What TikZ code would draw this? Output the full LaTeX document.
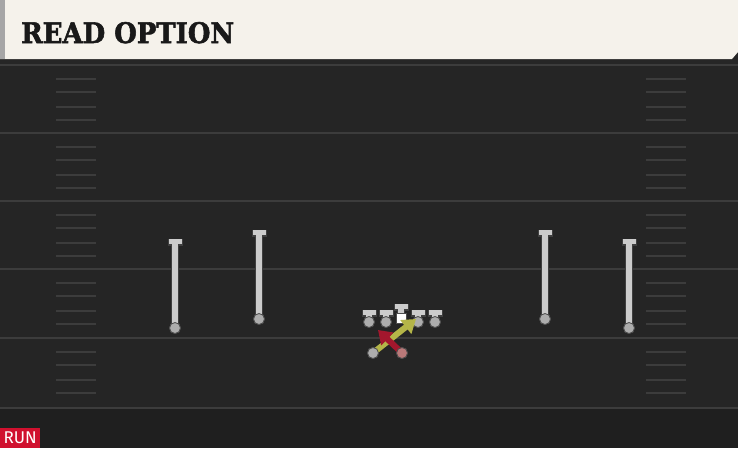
\documentclass[tikz,border=0pt]{standalone}
\usepackage{fontspec}
\usepackage{xcolor}
\usepackage{tikz}
\usetikzlibrary{arrows.meta}
\newfontfamily\titlefont[FakeBold=2]{DejaVu Serif}
\newfontfamily\tagfont{Fira Sans}
\definecolor{field}{HTML}{252525}
\definecolor{fielddark}{HTML}{1F1F1F}
\definecolor{yardline}{HTML}{3C3C3C}
\definecolor{cream}{HTML}{F5F2EB}
\definecolor{route}{HTML}{CCCCCC}
\definecolor{runred}{HTML}{D0102E}
\definecolor{qbline}{HTML}{B4B548}
\definecolor{rbline}{HTML}{A3172D}
\tikzset{
  yard/.style={yardline, line width=2pt},
  hash/.style={yardline, line width=1.5pt},
  player/.style={circle, fill=route!85!black, draw=black!70, line width=0.8pt, inner sep=0pt, minimum size=11pt},
  center/.style={draw=black!70, fill=white, line width=0.8pt, minimum size=10pt, inner sep=0pt},
  block/.style={route, line width=6pt, -{Rectangle[length=5pt, width=13pt]},
    preaction={draw=black!75, line width=7.5pt, -{Rectangle[length=6.5pt, width=15pt]}}},
  run/.style={line width=6pt, -{Triangle[length=13pt, width=17pt]}}
}
\begin{document}
\begin{tikzpicture}[x=1pt, y=-1pt]
            \useasboundingbox (0,0) rectangle (738,448);
            % field and header
            \fill[field] (0,0) rectangle (738,448);
            \fill[fielddark] (0,408) rectangle (738,448);
            \fill[black!85] (0,59) rectangle (738,64);
            \fill[cream] (0,0) -- (738,0) -- (738,52) -- (732,59) -- (0,59) -- cycle;
            \fill[black!35] (0,0) rectangle (5,59);
            \node[anchor=base west, text=black!90, inner sep=0pt] (title) at (21,43)
                {\resizebox{213pt}{21pt}{\titlefont\bfseries\fontsize{28}{28}\selectfont READ OPTION}};

            % yard lines and hash marks
            \foreach \y in {65,133,201,269,338,408}
                \draw[yard] (0,\y) -- (738,\y);
            \foreach \y in {65,133,201,269,338}
                \foreach \d in {14,27,42,55} {
                    \draw[hash] (56,\y+\d) -- (96,\y+\d);
                    \draw[hash] (646,\y+\d) -- (686,\y+\d);
                }

            % receivers
            \coordinate (wr1t) at (175,239);
            \coordinate (wr2t) at (259,230);
            \coordinate (wr3t) at (545,230);
            \coordinate (wr4t) at (629,239);
            \node[player] (wr1) at (175,328) {};
            \node[player] (wr2) at (259,319) {};
            \node[player] (wr3) at (545,319) {};
            \node[player] (wr4) at (629,328) {};
            \draw[block] (wr1.center) -- (wr1t);
            \draw[block] (wr2.center) -- (wr2t);
            \draw[block] (wr3.center) -- (wr3t);
            \draw[block] (wr4.center) -- (wr4t);
            \foreach \p in {wr1,wr2,wr3,wr4}
                \node[player] at (\p) {};

            % line
            \coordinate (ltt) at (369,310);
            \coordinate (lgt) at (386,310);
            \coordinate (ct) at (401,304);
            \coordinate (rgt) at (418,310);
            \coordinate (rtt) at (435,310);
            \node[player] (lt) at (369,322) {};
            \node[player] (lg) at (386,322) {};
            \node[center] (c) at (401,318) {};
            \node[player] (rg) at (418,322) {};
            \node[player] (rt) at (435,322) {};
            \draw[block] (lt.center) -- (ltt);
            \draw[block] (lg.center) -- (lgt);
            \draw[block] (c.center) -- (ct);
            \draw[block] (rg.center) -- (rgt);
            \draw[block] (rt.center) -- (rtt);
            \foreach \p in {lt,lg,rg,rt}
                \node[player] at (\p) {};
            \node[center] at (c) {};

            % backfield
            \node[player] (qb) at (373,353) {};
            \node[player, fill=red!30!route!85!black] (rb) at (402,353) {};
            \coordinate (qbt) at (416,319);
            \coordinate (rbt) at (378,330);
            \draw[run, qbline] (qb.center) -- (qbt);
            \draw[run, rbline] (rb.center) -- (rbt);
            \node[player] at (qb) {};
            \node[player, fill=red!30!route!85!black] at (rb) {};

            % tag
            \node[fill=runred, text=white, anchor=south west, inner sep=0pt,
                minimum width=40pt, minimum height=20pt] (tag) at (0,448)
                {\tagfont\fontsize{17}{17}\selectfont RUN};
        \end{tikzpicture}
\end{document}
